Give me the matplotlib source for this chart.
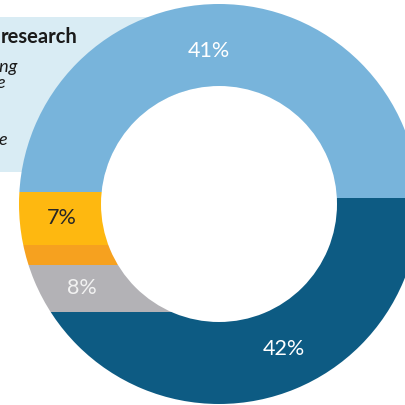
import matplotlib.pyplot as plt
from matplotlib.patches import Wedge, Rectangle, Circle

# share of each group (percent), top of ring going anticlockwise
groups = ['Group A', 'Group B', 'Group C', 'Group D', 'Group E']
shares = [41, 7, 2, 8, 42]
show_label = [True, True, False, True, True]
colors = ['#78b4db', '#feb810', '#f6a11f', '#b3b2b6', '#0d5b83']
label_colors = ['white', '#262626', 'white', '#f2f2f2', 'white']

# ring geometry (outer radius = 1)
inner = 0.59
left_cuts = [0.06, -0.205, -0.305, -0.54]   # band edges on the left half
right_cut = 0.03                             # split on the right half
label_pos = [(-0.05, 0.765), (-0.785, -0.07), None, (-0.685, -0.42), (0.325, -0.725)]

fig = plt.figure(figsize=(4.06, 4.05), dpi=100)
ax = fig.add_axes([0, 0, 1, 1])
ax.set_xlim(-219 / 200, 187 / 200)
ax.set_ylim(-201 / 200, 204 / 200)
ax.axis('off')

# caption box behind the ring
ax.add_patch(Rectangle((-1.3, 0.16), 1.3, 0.775, color='#d9ecf4', lw=0, zorder=0))
ax.text(-0.71, 0.805, 'research', ha='right', va='baseline', fontsize=14.5,
        fontweight='bold', family='Lato', color='#1a1a1a', zorder=1)
for s, x, y in [('ing', -1.005, 0.66), ('e', -1.07, 0.58), ('e', -1.06, 0.295)]:
    ax.text(x, y, s, ha='right', va='baseline', fontsize=13, style='italic',
            family='Lato', color='#1a1a1a', zorder=1)


def band(color, x0, x1, y0, y1):
    w = Wedge((0, 0), 1, 0, 360, width=1 - inner, color=color, lw=0, zorder=2)
    ax.add_patch(w)
    clip = Rectangle((x0, y0), x1 - x0, y1 - y0, transform=ax.transData)
    w.set_clip_path(clip)


edges = [1.1] + left_cuts + [-1.1]
for i, c in enumerate(colors):
    band(c, -1.1, 0, edges[i + 1], edges[i])
band(colors[0], 0, 1.1, right_cut, 1.1)
band(colors[-1], 0, 1.1, -1.1, right_cut)

# white hole
ax.add_patch(Circle((0, 0), inner, color='white', lw=0, zorder=1.5))

for v, show, pos, lc in zip(shares, show_label, label_pos, label_colors):
    if show:
        ax.text(pos[0], pos[1], f'{v}%', ha='center', va='center', fontsize=15.5,
                family='Lato', color=lc, zorder=3)

fig.savefig('out.png', dpi=100)
